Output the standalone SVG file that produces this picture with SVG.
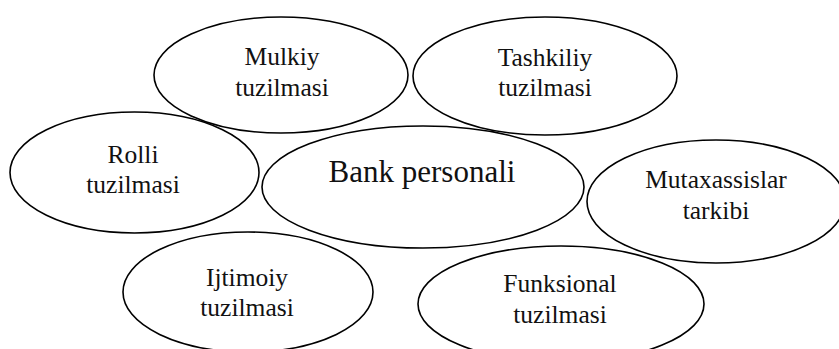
<svg xmlns="http://www.w3.org/2000/svg" width="839" height="349" viewBox="0 0 839 349">
<style>
ellipse{fill:none;stroke:#000;stroke-width:1.6}
text{font-family:"Liberation Serif","Times New Roman",serif;font-size:25.5px;fill:#111;text-anchor:middle}
.big{font-size:31px}
</style>
<rect width="839" height="349" fill="#fff"/>
<g id="mulkiy"><ellipse cx="281" cy="75" rx="127" ry="58"/><text x="282" y="65">Mulkiy</text><text x="282" y="96">tuzilmasi</text></g>
<g id="tashkiliy"><ellipse cx="545" cy="76" rx="132" ry="59"/><text x="545" y="66">Tashkiliy</text><text x="545" y="96">tuzilmasi</text></g>
<g id="rolli"><ellipse cx="134.5" cy="172.5" rx="124.5" ry="60.5"/><text x="133" y="163">Rolli</text><text x="133" y="193">tuzilmasi</text></g>
<g id="bank"><ellipse cx="423" cy="187" rx="161" ry="61"/><text class="big" x="422" y="182">Bank personali</text></g>
<g id="mutaxassislar"><ellipse cx="716" cy="201.5" rx="129" ry="61.5"/><text x="716" y="188">Mutaxassislar</text><text x="716" y="219">tarkibi</text></g>
<g id="ijtimoiy"><ellipse cx="248" cy="292" rx="125" ry="60"/><text x="247" y="286">Ijtimoiy</text><text x="247" y="316">tuzilmasi</text></g>
<g id="funksional"><ellipse cx="561" cy="304" rx="143" ry="58"/><text x="560" y="292">Funksional</text><text x="560" y="323">tuzilmasi</text></g>
<g id="connectors"/>
</svg>
